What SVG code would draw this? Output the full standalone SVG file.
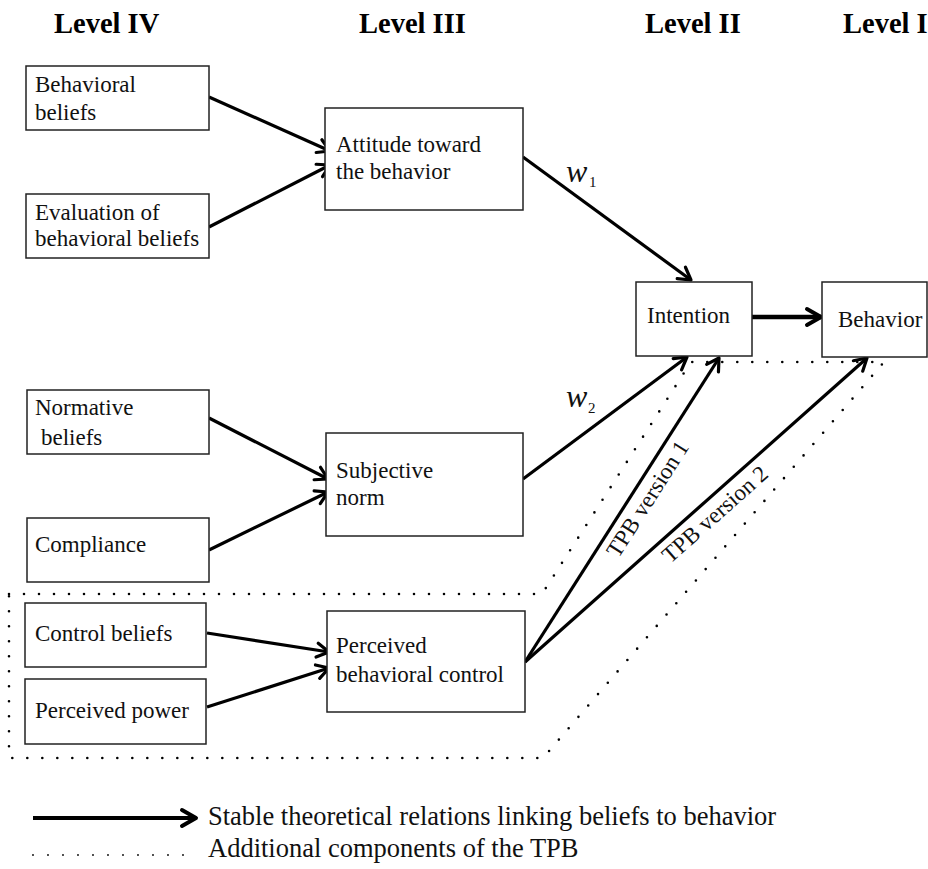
<svg xmlns="http://www.w3.org/2000/svg" width="928" height="869" viewBox="0 0 928 869">
<style>
.box{fill:#fff;stroke:#222;stroke-width:1.5}
.t{font-family:"Liberation Serif","Times New Roman",serif;font-size:23px;fill:#111}
.lvl{font-family:"Liberation Serif","Times New Roman",serif;font-size:28.5px;font-weight:bold;fill:#000}
.leg{font-family:"Liberation Serif","Times New Roman",serif;font-size:26.5px;fill:#111}
.w{font-family:"Liberation Serif","Times New Roman",serif;font-style:italic;font-size:32px;fill:#111}
.sub{font-family:"Liberation Serif","Times New Roman",serif;font-size:15px;fill:#111}
.arr{stroke:#000;stroke-width:3.2;fill:none;marker-end:url(#ah)}
.dot{stroke:#000;stroke-width:2.6;fill:none;stroke-linecap:round;stroke-dasharray:0 15}
</style>
<defs>
<marker id="ah" markerUnits="userSpaceOnUse" viewBox="0 0 16 18" markerWidth="16" markerHeight="18" refX="14" refY="9" orient="auto" overflow="visible">
<path d="M2,2 L14,9 L2,16" fill="none" stroke="#000" stroke-width="3.2" stroke-linejoin="round" stroke-linecap="round"/>
</marker>
<marker id="ah2" markerUnits="userSpaceOnUse" viewBox="0 0 18 20" markerWidth="18" markerHeight="20" refX="16" refY="10" orient="auto" overflow="visible">
<path d="M2,2 L16,10 L2,18" fill="none" stroke="#000" stroke-width="4" stroke-linejoin="round" stroke-linecap="round"/>
</marker>
</defs>
<rect width="928" height="869" fill="#fff"/>

<g id="levels">
<text class="lvl" x="54" y="33">Level IV</text>
<text class="lvl" x="359" y="33">Level III</text>
<text class="lvl" x="645" y="33">Level II</text>
<text class="lvl" x="843" y="33">Level I</text>
</g>

<g id="tpb-region">
<polygon class="dot" points="9,594 542,594 691,362 884,362 543,758 9,758"/>
</g>

<g id="connectors">
<line class="arr" x1="209" y1="97" x2="330" y2="151"/>
<line class="arr" x1="209" y1="227" x2="330" y2="165"/>
<line class="arr" x1="523" y1="157" x2="691" y2="280"/>
<line class="arr" x1="209" y1="418" x2="328" y2="479"/>
<line class="arr" x1="209" y1="550" x2="328" y2="492"/>
<line class="arr" x1="523" y1="479" x2="687" y2="357"/>
<line class="arr" x1="207" y1="633" x2="329" y2="652"/>
<line class="arr" x1="207" y1="707" x2="329" y2="668"/>
<line class="arr" x1="525" y1="662" x2="719" y2="358"/>
<line class="arr" x1="525" y1="662" x2="867" y2="358"/>
<line x1="752" y1="317" x2="821" y2="317" stroke="#000" stroke-width="4.5" marker-end="url(#ah2)"/>
<text class="w" x="566" y="182">w</text><text class="sub" x="589" y="187">1</text>
<text class="w" x="566" y="407">w</text><text class="sub" x="588" y="413">2</text>
<text class="t" text-anchor="middle" transform="translate(654,503) rotate(-57.5)">TPB version 1</text>
<text class="t" text-anchor="middle" transform="translate(720,520) rotate(-41.6)">TPB version 2</text>
</g>

<g id="behavioral-beliefs">
<rect class="box" x="26" y="66" width="183" height="64"/>
<text class="t" x="35" y="92">Behavioral</text>
<text class="t" x="35" y="120">beliefs</text>
</g>
<g id="evaluation">
<rect class="box" x="26" y="194" width="183" height="64"/>
<text class="t" x="35" y="220">Evaluation of</text>
<text class="t" x="35" y="246">behavioral beliefs</text>
</g>
<g id="attitude">
<rect class="box" x="325" y="108" width="198" height="102"/>
<text class="t" x="336" y="152">Attitude toward</text>
<text class="t" x="336" y="179">the behavior</text>
</g>
<g id="normative-beliefs">
<rect class="box" x="27" y="390" width="182" height="64"/>
<text class="t" x="35" y="415">Normative</text>
<text class="t" x="41" y="445">beliefs</text>
</g>
<g id="compliance">
<rect class="box" x="27" y="518" width="182" height="64"/>
<text class="t" x="35" y="552">Compliance</text>
</g>
<g id="subjective-norm">
<rect class="box" x="326" y="433" width="197" height="103"/>
<text class="t" x="336" y="478">Subjective</text>
<text class="t" x="336" y="505">norm</text>
</g>
<g id="control-beliefs">
<rect class="box" x="25" y="603" width="181" height="64"/>
<text class="t" x="35" y="641">Control beliefs</text>
</g>
<g id="perceived-power">
<rect class="box" x="25" y="679" width="181" height="65"/>
<text class="t" x="35" y="718">Perceived power</text>
</g>
<g id="pbc">
<rect class="box" x="327" y="611" width="198" height="101"/>
<text class="t" x="336" y="653">Perceived</text>
<text class="t" x="336" y="682">behavioral control</text>
</g>
<g id="intention">
<rect class="box" x="636" y="282" width="116" height="74"/>
<text class="t" x="647" y="323">Intention</text>
</g>
<g id="behavior">
<rect class="box" x="822" y="282" width="105" height="75"/>
<text class="t" x="838" y="327">Behavior</text>
</g>

<g id="legend">
<line x1="33" y1="818" x2="196" y2="818" stroke="#000" stroke-width="4" marker-end="url(#ah2)"/>
<text class="leg" x="208" y="825">Stable theoretical relations linking beliefs to behavior</text>
<line x1="33" y1="855" x2="185" y2="855" stroke="#000" stroke-width="1.8" stroke-linecap="round" stroke-dasharray="0 15"/>
<text class="leg" x="208" y="857">Additional components of the TPB</text>
</g>
</svg>
